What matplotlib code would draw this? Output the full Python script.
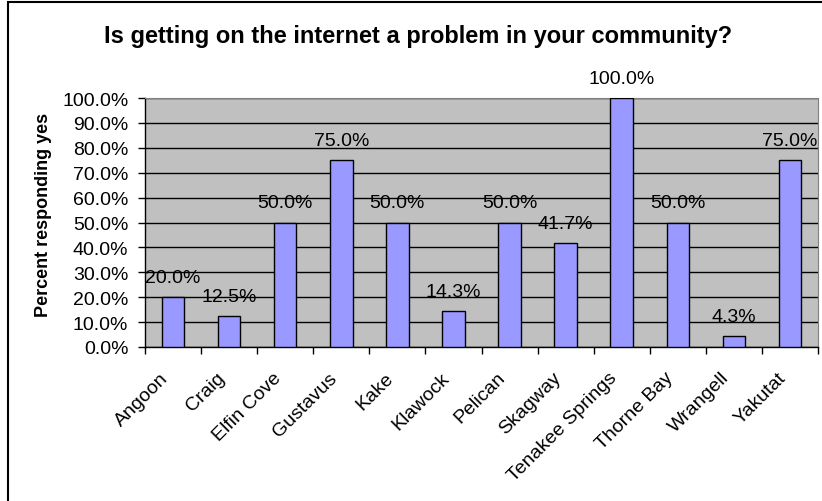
import numpy as np
import matplotlib
matplotlib.use("Agg")
import matplotlib.pyplot as plt
from matplotlib.patches import Rectangle
from matplotlib.ticker import FuncFormatter, FixedLocator
from matplotlib.transforms import ScaledTranslation

communities = ["Angoon", "Craig", "Elfin Cove", "Gustavus", "Kake", "Klawock",
               "Pelican", "Skagway", "Tenakee Springs", "Thorne Bay",
               "Wrangell", "Yakutat"]
pct_yes = [0.200, 0.125, 0.500, 0.750, 0.500, 0.143,
           0.500, 0.417, 1.000, 0.500, 0.043, 0.750]
y_ticks = np.arange(0, 1.01, 0.1)

plt.rcParams["font.family"] = ["Liberation Sans", "DejaVu Sans"]

W, H = 822, 502
fig = plt.figure(figsize=(W / 100, H / 100), dpi=100)

# outer chart border (cropped at right and bottom like the original)
fig.patches.append(Rectangle((8 / W, -0.1), 1.2, 1 - 3 / H + 0.1,
                             transform=fig.transFigure, fill=False,
                             edgecolor="black", linewidth=1.5))

ax = fig.add_axes([145 / W, 1 - 348 / H, (818 - 145) / W, (348 - 99) / H])
ax.set_facecolor("#C0C0C0")

x = np.arange(len(communities))
ax.bar(x, pct_yes, width=0.4, color="#9999FF", edgecolor="black",
       linewidth=1.0, zorder=3)

for xi, v in zip(x, pct_yes):
    ax.annotate(f"{v * 100:.1f}%", (xi, v), xytext=(0, 8),
                textcoords="offset points", ha="center", va="bottom",
                fontsize=14, zorder=4)

ax.set_xlim(-0.5, len(communities) - 0.5)
ax.set_ylim(0, 1.0)
ax.set_yticks(y_ticks)
ax.yaxis.set_major_formatter(FuncFormatter(lambda v, p: f"{v * 100:.1f}%"))
ax.yaxis.grid(True, color="black", linewidth=1.0, zorder=1)
ax.set_axisbelow(True)

ax.set_xticks(x)
ax.set_xticklabels(communities, rotation=45, ha="right", va="center",
                   rotation_mode="anchor", fontsize=14)
ax.xaxis.set_minor_locator(FixedLocator(np.arange(-0.5, len(communities))))
ax.tick_params(axis="x", which="major", length=0, pad=20)
ax.tick_params(axis="x", which="minor", length=5, direction="out", width=1)
ax.tick_params(axis="y", length=5, direction="out", width=1, labelsize=14, pad=7)
for lab in ax.get_xticklabels():
    lab.set_transform(lab.get_transform() +
                      ScaledTranslation(-7 / 100, 0, fig.dpi_scale_trans))

for side in ["left", "bottom"]:
    ax.spines[side].set_color("black")
    ax.spines[side].set_linewidth(1.0)
ax.spines["right"].set_color("#808080")
ax.spines["top"].set_color("#808080")

fig.text(43 / W, 1 - 215 / H, "Percent responding yes", rotation=90,
         ha="center", va="center", fontsize=13, fontweight="bold")

fig.text(418 / W, 1 - 36 / H,
         "Is getting on the internet a problem in your community?",
         ha="center", va="center", fontsize=17, fontweight="bold")

fig.savefig("out.png", dpi=100)
